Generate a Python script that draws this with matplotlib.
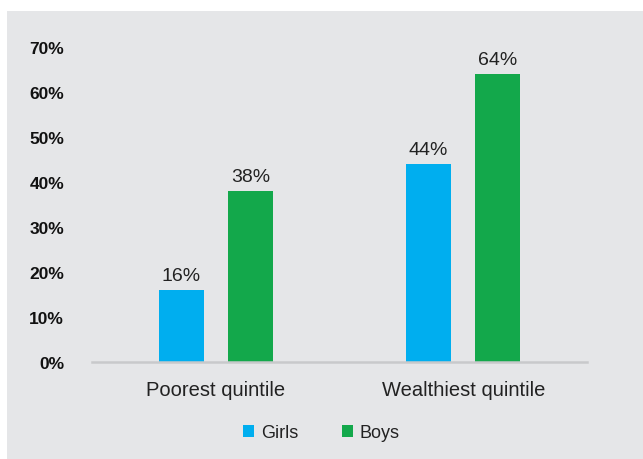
import matplotlib
matplotlib.use("Agg")
import matplotlib.pyplot as plt
from matplotlib.patches import Rectangle, Patch
import numpy as np

# data
categories = ["Poorest quintile", "Wealthiest quintile"]
girls = [16, 44]
boys = [38, 64]
yticks = [0, 10, 20, 30, 40, 50, 60, 70]

blue = "#00aeef"
green = "#13a84b"
bg = "#e5e6e8"

plt.rcParams['font.family'] = ['Liberation Sans', 'DejaVu Sans']

fig = plt.figure(figsize=(6.43, 4.60), dpi=100)
fig.patch.set_facecolor("white")
# grey panel behind the chart
fig.patches.append(Rectangle((7 / 643, 0), 1, (460 - 12) / 460,
                             transform=fig.transFigure, facecolor=bg,
                             edgecolor="none", zorder=-5))

ax = fig.add_axes([92 / 643, 97 / 460, 495 / 643, 315 / 460])
ax.set_facecolor("none")
ax.set_zorder(2)

x = np.arange(len(categories))
w = 0.182
off = 0.14
b1 = ax.bar(x - off, girls, w, color=blue, zorder=2)
b2 = ax.bar(x + off, boys, w, color=green, zorder=2)

for bars, vals in ((b1, girls), (b2, boys)):
    for rect, v in zip(bars, vals):
        ax.annotate(f"{v}%", (rect.get_x() + rect.get_width() / 2, v),
                    xytext=(0, 4), textcoords="offset points",
                    ha="center", va="bottom", fontsize=14, color="#222222")

ax.set_xlim(-0.5, 1.5)
ax.set_ylim(0, 70)
ax.set_xticks(x)
ax.set_xticklabels(categories, fontsize=14.5, color="#222222")
ax.set_yticks(yticks)
ax.set_yticklabels([f"{t}%" for t in yticks], fontsize=12.5, fontweight="bold",
                   color="#111111")
ax.tick_params(axis="both", length=0)
ax.tick_params(axis="y", pad=20)
ax.tick_params(axis="x", pad=13)

for s in ("top", "right", "left"):
    ax.spines[s].set_visible(False)
ax.spines["bottom"].set_color("#c8c9cb")
ax.spines["bottom"].set_linewidth(1.8)

handles = [Patch(facecolor=blue, label="Girls"), Patch(facecolor=green, label="Boys")]
leg = fig.legend(handles=handles, loc="center", bbox_to_anchor=(0.5, 0.057), ncol=2,
                 frameon=False, fontsize=13, handlelength=0.6, handleheight=0.6,
                 handletextpad=0.4, columnspacing=2.4, labelcolor="#222222")
leg.set_zorder(3)

fig.savefig("out.png", dpi=100, facecolor="white")
